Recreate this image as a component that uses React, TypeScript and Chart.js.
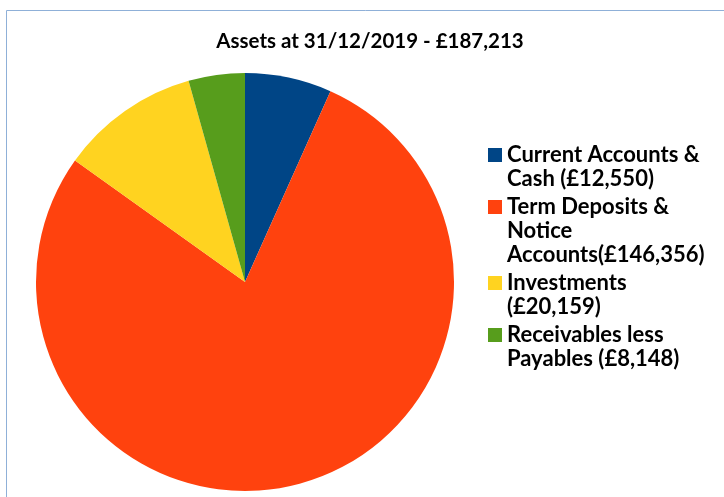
import React, { useEffect, useRef } from "react";
import { Chart, registerables } from "chart.js";

Chart.register(...registerables);

const titleText = "Assets at 31/12/2019 - £187,213";
const categories = [
  "Current Accounts & Cash",
  "Term Deposits & Notice Accounts",
  "Investments",
  "Receivables less Payables",
];
const values = [12550, 146356, 20159, 8148];
const legendLines = [
  ["Current Accounts &", "Cash (£12,550)"],
  ["Term Deposits &", "Notice", "Accounts(£146,356)"],
  ["Investments", "(£20,159)"],
  ["Receivables less", "Payables (£8,148)"],
];
const colors = ["#004586", "#ff420e", "#ffd320", "#579d1c"];

const FONT = "Lato, 'DejaVu Sans', sans-serif";

const decorPlugin = {
  id: "decor",
  beforeDraw(chart: any) {
    const ctx = chart.ctx;
    ctx.save();
    ctx.fillStyle = "#ffffff";
    ctx.fillRect(0, 0, chart.width, chart.height);
    ctx.strokeStyle = "#8fb0d8";
    ctx.lineWidth = 1;
    ctx.beginPath();
    ctx.moveTo(6.5, chart.height);
    ctx.lineTo(6.5, 10.5);
    ctx.lineTo(chart.width, 10.5);
    ctx.stroke();
    ctx.restore();
  },
  afterDraw(chart: any) {
    const ctx = chart.ctx;
    ctx.save();
    ctx.fillStyle = "#000000";
    ctx.textAlign = "center";
    ctx.textBaseline = "alphabetic";
    ctx.font = `bold 20.5px ${FONT}`;
    ctx.fillText(titleText, 370, 48);

    const bg = chart.data.datasets[0].backgroundColor as string[];
    ctx.textAlign = "left";
    ctx.font = `bold 22px ${FONT}`;
    let baseline = 162;
    legendLines.forEach((lines, i) => {
      ctx.fillStyle = bg[i];
      ctx.fillRect(488, baseline - 14, 14, 14);
      ctx.fillStyle = "#000000";
      lines.forEach((ln, j) => {
        ctx.fillText(ln, 507, baseline);
        if (j < lines.length - 1) baseline += 24;
      });
      baseline += 28;
    });
    ctx.restore();
  },
};

export default function App() {
  const ref = useRef<HTMLCanvasElement | null>(null);
  useEffect(() => {
    if (!ref.current) return;
    const chart = new Chart(ref.current, {
      type: "pie",
      data: {
        labels: categories,
        datasets: [
          {
            data: values,
            backgroundColor: colors,
            borderWidth: 0,
            hoverOffset: 0,
          },
        ],
      },
      options: {
        responsive: false,
        animation: false,
        devicePixelRatio: 1,
        layout: { padding: { left: 36, right: 270, top: 72, bottom: 5 } },
        plugins: {
          legend: { display: false },
          title: { display: false },
          tooltip: { enabled: false },
        },
      },
      plugins: [decorPlugin],
    });
    return () => chart.destroy();
  }, []);
  return (
    <div style={{ position: "absolute", left: 0, top: 0, width: 724, height: 497 }}>
      <canvas ref={ref} width={724} height={497} style={{ width: 724, height: 497 }} />
    </div>
  );
}
